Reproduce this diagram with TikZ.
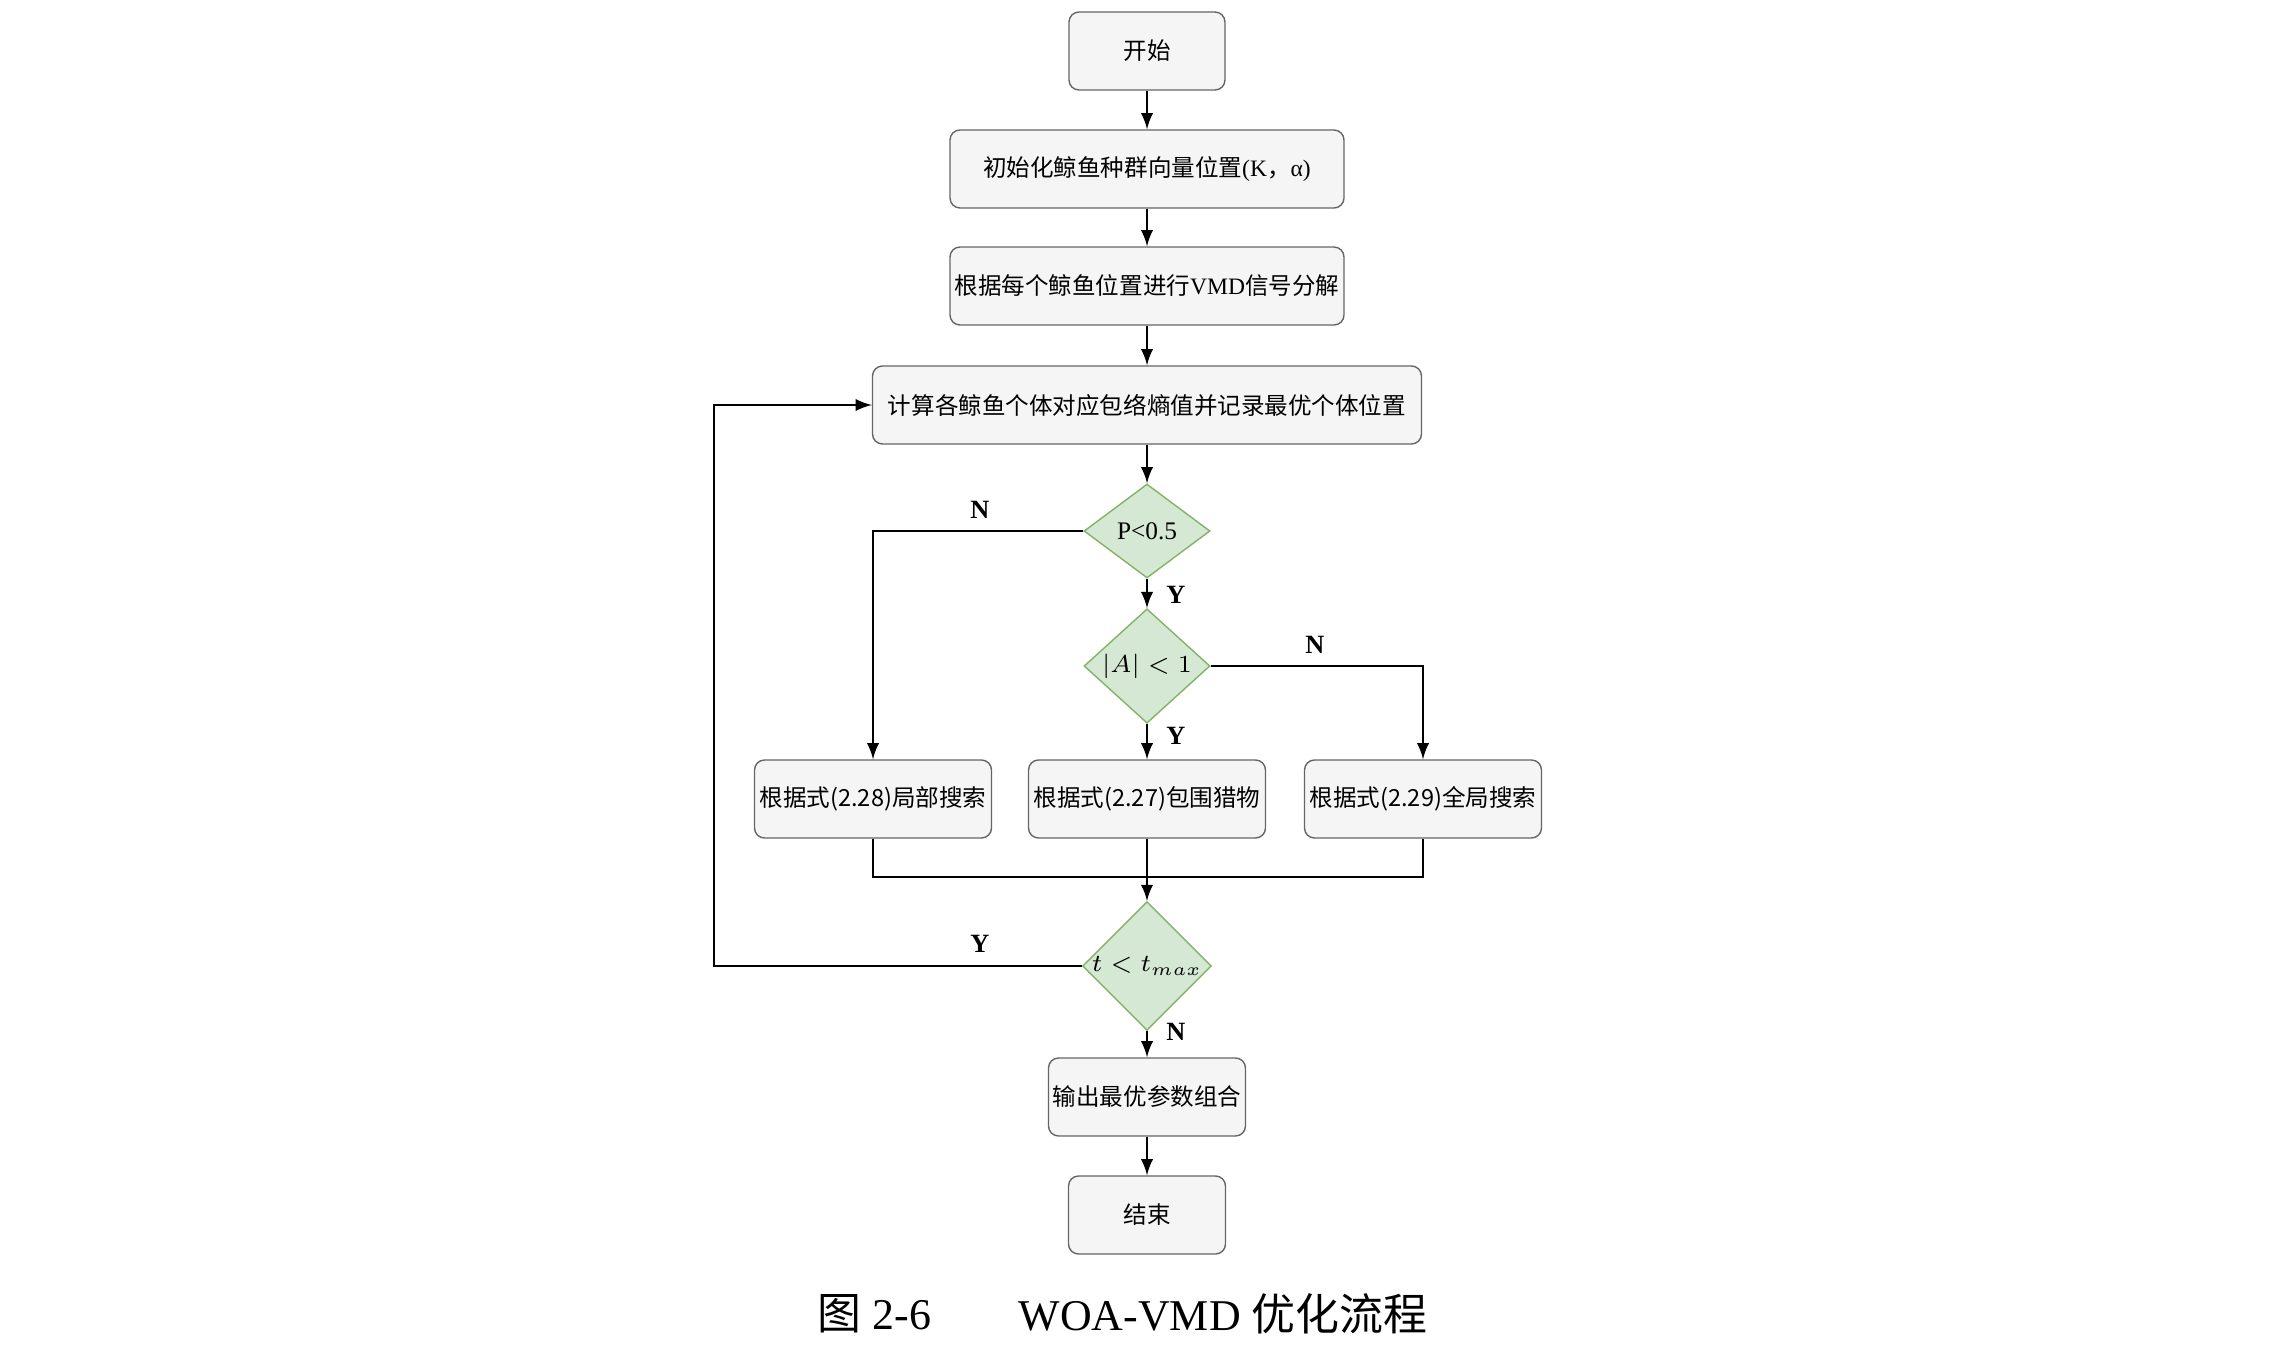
\documentclass[tikz,border=0pt]{standalone}
\usepackage{fontspec}
\setmainfont{Liberation Serif}
\newfontfamily\cjk{Noto Sans CJK SC}
\usetikzlibrary{shapes.geometric,arrows}

\definecolor{boxfill}{HTML}{F5F5F5}
\definecolor{boxline}{HTML}{666666}
\definecolor{decfill}{HTML}{D5E8D4}
\definecolor{decline}{HTML}{82B366}

\begin{document}
\begin{tikzpicture}[
    % define styles
    proc/.style={
         draw=boxline,
         fill=boxfill,
         rounded corners=1mm,
         minimum height=0.78cm,
         inner sep=1pt,
         font=\cjk\fontsize{6.7}{8}\selectfont
    },
    cond/.style={
         diamond,
         draw=decline,
         fill=decfill,
         inner sep=0pt,
         minimum width=1.26cm,
         minimum height=0.94cm,
         font=\fontsize{7.2}{8}\selectfont
    },
    yn/.style={
         font=\bfseries\fontsize{7.5}{9}\selectfont
    },
    line/.style={
         line width=0.6pt
    }
]
\useasboundingbox (0.04,-0.01) rectangle (22.96,-13.55);
% Main column start to end
\node[proc,minimum width=1.56cm] at (11.51,-0.52) (start) {开始};
\node[proc,minimum width=3.94cm] at (11.51,-1.70) (init) {初始化鲸鱼种群向量位置{\rmfamily(K}，{\rmfamily α)}};
\node[proc,minimum width=3.94cm] at (11.51,-2.87) (vmd) {根据每个鲸鱼位置进行{\rmfamily VMD}信号分解};
\node[proc,minimum width=5.49cm] at (11.51,-4.06) (calc) {计算各鲸鱼个体对应包络熵值并记录最优个体位置};
\node[cond] at (11.51,-5.32) (pcheck) {P<0.5};
\node[cond] at (11.51,-6.67) (acheck) {$|A|<1$};
\node[proc,minimum width=2.37cm] at (11.51,-8.00) (encircle) {根据式(2.27)包围猎物};
\node[cond] at (11.51,-9.67) (tcheck) {$t<t_{max}$};
\node[proc,minimum width=1.97cm] at (11.51,-10.98) (output) {输出最优参数组合};
\node[proc,minimum width=1.57cm] at (11.51,-12.16) (stop) {结束};
% Side boxes
\node[proc,minimum width=2.37cm] at (8.77,-8.00) (local) {根据式(2.28)局部搜索};
\node[proc,minimum width=2.37cm] at (14.27,-8.00) (global) {根据式(2.29)全局搜索};

% Arrows down the main column
\foreach \a/\b in {start/init,init/vmd,vmd/calc,calc/pcheck,pcheck/acheck,acheck/encircle,encircle/tcheck,tcheck/output,output/stop}
    \draw[line,-latex] (\a) -- (\b);

% Branches, merge and loop back
\draw[line,-latex] (pcheck.west) -| (local.north);
\draw[line,-latex] (acheck.east) -| (global.north);
\coordinate (merge) at (11.51,-8.78);
\draw[line] (local.south) |- (merge) -| (global.south);
\coordinate (loop) at (7.18,-4.06);
\draw[line,-latex] (tcheck.west) -| (loop) -- (calc.west);

% Y/N labels
\node[yn] (pno) at (9.84,-5.11) {N};
\node[yn] (pyes) at (11.80,-5.96) {Y};
\node[yn] (ano) at (13.19,-6.46) {N};
\node[yn] (ayes) at (11.80,-7.37) {Y};
\node[yn] (tyes) at (9.84,-9.45) {Y};
\node[yn] (tno) at (11.80,-10.33) {N};

% Caption
\node[anchor=west,inner sep=0pt,font=\fontsize{12.5}{14}\selectfont] (fignum) at (8.21,-13.15) {{\cjk 图} 2-6};
\node[anchor=west,inner sep=0pt,font=\fontsize{12.5}{14}\selectfont] (figtitle) at (10.22,-13.15) {WOA-VMD {\cjk 优化流程}};
\end{tikzpicture}
\end{document}
